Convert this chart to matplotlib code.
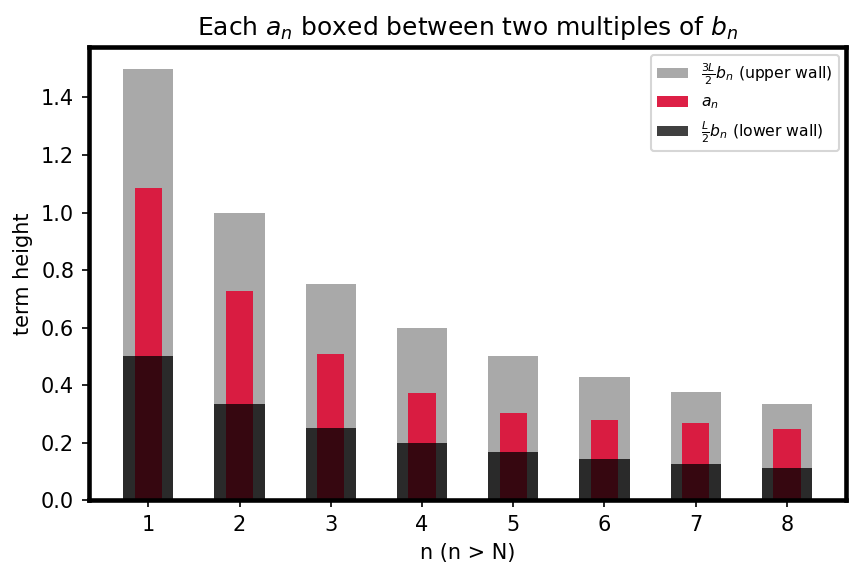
import matplotlib
matplotlib.use("Agg")
import matplotlib.pyplot as plt

n = [1, 2, 3, 4, 5, 6, 7, 8]
upper_wall = [1.5, 1.0, 0.75, 0.6, 0.5, 0.43, 0.375, 0.333]
a_n = [1.085, 0.727, 0.508, 0.372, 0.302, 0.278, 0.267, 0.247]
lower_wall = [0.5, 0.333, 0.25, 0.2, 0.167, 0.143, 0.125, 0.111]

fig, ax = plt.subplots(figsize=(862 / 150, 575 / 150), dpi=150)

ax.bar(n, upper_wall, width=0.55, color="darkgray", label=r"$\frac{3L}{2}b_n$ (upper wall)")
ax.bar(n, a_n, width=0.3, color="crimson", alpha=0.95, label=r"$a_n$")
ax.bar(n, lower_wall, width=0.55, color="black", alpha=0.75, label=r"$\frac{L}{2}b_n$ (lower wall)")

ax.set_xticks(n)
ax.set_xlabel("n (n > N)")
ax.set_ylabel("term height")
ax.set_title(r"Each $a_n$ boxed between two multiples of $b_n$")
ax.legend(fontsize=7.5, loc="upper right")

for s in ax.spines.values():
  s.set_linewidth(2.2)

fig.subplots_adjust(left=0.103, right=0.982, top=0.918, bottom=0.13)
fig.savefig("out.png", dpi=150)
